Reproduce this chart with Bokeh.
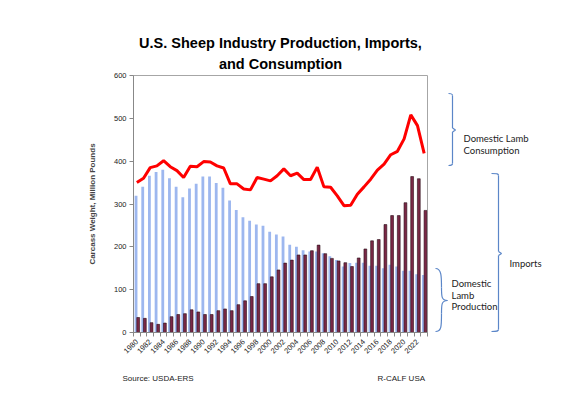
from bokeh.plotting import figure
from bokeh.layouts import row, column
from bokeh.models import Range1d, FixedTicker, Label, ColumnDataSource, Title
from bokeh.embed import file_html
from bokeh.resources import INLINE

years = list(range(1980, 2024))
production = [319, 340, 366, 375, 380, 360, 340, 316, 336, 347, 364, 364, 349, 338, 308, 286,
              269, 261, 252, 249, 235, 229, 224, 205, 200, 192, 189, 189, 185, 178, 169, 154,
              162, 163, 163, 156, 156, 150, 158, 154, 144, 144, 136, 134]
imports = [35, 33, 23, 19, 22, 37, 42, 44, 53, 48, 42, 42, 51, 55, 51, 65,
           74, 84, 114, 114, 130, 146, 162, 169, 181, 181, 191, 204, 184, 173, 167, 163,
           154, 174, 195, 214, 217, 252, 273, 273, 303, 364, 359, 285]
consumption = [350, 360, 385, 389, 401, 387, 378, 362, 388, 387, 399, 398, 389, 384, 347, 347,
               335, 333, 362, 358, 354, 366, 382, 366, 372, 357, 357, 386, 340, 339, 319, 296,
               297, 323, 340, 358, 379, 393, 415, 423, 452, 508, 483, 418]
y_ticks = [0, 100, 200, 300, 400, 500, 600]
x_tick_years = list(range(1980, 2023, 2))

title_lines = ["U.S. Sheep Industry Production, Imports,", "and Consumption"]
y_label = "Carcass Weight, Million Pounds"
source_text = "Source:  USDA-ERS"
credit_text = "R-CALF USA"

src = ColumnDataSource(dict(
    year=years, production=production, imports=imports, consumption=consumption,
    xb=[y - 0.12 for y in years], xd=[y + 0.2 for y in years]))

H = 362
p = figure(width=430, height=H, output_backend="svg", toolbar_location=None,
           x_range=Range1d(1979.5, 2023.5), y_range=Range1d(0, 600),
           min_border_left=133, min_border_right=3, min_border_top=75, min_border_bottom=30)
p.title = None
p.background_fill_color = "white"
p.border_fill_color = "white"
p.outline_line_color = "#a6a6a6"
p.outline_line_width = 1
p.grid.visible = False

title_kw = dict(align="center", text_font="Liberation Sans", text_font_style="bold",
                text_font_size="14.5px", text_color="black", text_line_height=0.9)
p.add_layout(Title(text=title_lines[1], standoff=7, **title_kw), "above")
p.add_layout(Title(text=title_lines[0], standoff=0, **title_kw), "above")

p.vbar(x="xb", top="production", width=0.42, bottom=0, source=src,
       fill_color="#9db7ef", line_color=None)
p.vbar(x="xd", top="imports", width=0.42, bottom=0, source=src,
       fill_color="#7a2846", line_color="#2a0d18", line_width=0.6)
p.line(x="year", y="consumption", source=src, line_color="#ff0000", line_width=3)

p.yaxis.ticker = FixedTicker(ticks=y_ticks)
p.yaxis.axis_label = y_label
p.yaxis.axis_label_text_font = "Liberation Sans"
p.yaxis.axis_label_text_font_style = "bold"
p.yaxis.axis_label_text_font_size = "8px"
p.yaxis.axis_label_standoff = 14
p.yaxis.major_label_text_font = "Liberation Sans"
p.yaxis.major_label_text_font_size = "7.5px"
p.yaxis.major_label_text_color = "#222222"
p.yaxis.major_tick_in = 0
p.yaxis.major_tick_out = 4
p.yaxis.minor_tick_out = 0
p.yaxis.minor_tick_in = 0
p.yaxis.major_label_standoff = 3
p.yaxis.axis_line_color = "#888888"
p.yaxis.major_tick_line_color = "#888888"

p.xaxis.ticker = FixedTicker(ticks=x_tick_years, minor_ticks=[y - 0.5 for y in years] + [2023.5])
p.xaxis.major_label_orientation = 0.785
p.xaxis.major_label_text_font = "Liberation Sans"
p.xaxis.major_label_text_font_size = "7.5px"
p.xaxis.major_label_text_color = "#222222"
p.xaxis.major_tick_in = 0
p.xaxis.major_tick_out = 0
p.xaxis.minor_tick_in = 0
p.xaxis.minor_tick_out = 4
p.xaxis.major_label_standoff = 4
p.xaxis.axis_line_color = "#888888"
p.xaxis.minor_tick_line_color = "#888888"

# right panel with braces and annotation texts (page coordinates; frame aligned with p)
q = figure(width=140, height=H, output_backend="svg", toolbar_location=None,
           x_range=Range1d(430, 570), y_range=Range1d(332, 75),
           min_border_left=0, min_border_right=0, min_border_top=75, min_border_bottom=30)
q.axis.visible = False
q.grid.visible = False
q.outline_line_color = None
q.background_fill_color = "white"
q.border_fill_color = "white"

brace_color = "#5b86c8"

def bracket(fig, x, top, bottom, tip, hook, tipw):
    fig.bezier(x0=[x - hook, x], y0=[top, bottom - 2], x1=[x, x - hook], y1=[top + 2, bottom],
               cx0=[x - 1, x], cy0=[top, bottom - 0.5], cx1=[x, x - 1], cy1=[top + 0.5, bottom],
               line_color=brace_color, line_width=1.2)
    fig.line([x, x], [top + 2, tip - 2], line_color=brace_color, line_width=1.2)
    fig.line([x, x], [tip + 2, bottom - 2], line_color=brace_color, line_width=1.2)
    fig.line([x, x + tipw, x], [tip - 2, tip, tip + 2], line_color=brace_color, line_width=1.2)

bracket(q, 452, 93, 165, 129.5, 4, 3)
bracket(q, 498, 173, 331, 253, 7, 3)

q.bezier(x0=[435, 441, 447, 441], y0=[268, 287, 300, 313],
         x1=[441, 447, 441, 435], y1=[287, 300, 313, 331],
         cx0=[441, 441, 441, 441], cy0=[268, 296, 300, 326],
         cx1=[441, 441, 441, 441], cy1=[276, 300, 304, 331],
         line_color=brace_color, line_width=1.2)

txt_kw = dict(text_font="Lato", text_font_size="9.5px", text_color="#222222",
              text_baseline="middle", text_align="left")
ann = [("Domestic Lamb", 463, 138), ("Consumption", 463, 150), ("Imports", 509, 263),
       ("Domestic", 451, 283), ("Lamb", 451, 294.5), ("Production", 451, 306)]
for t, xx, yy in ann:
    q.add_layout(Label(x=xx, y=yy, text=t, **txt_kw))

# footer strip (page coordinates)
f = figure(width=570, height=24, output_backend="svg", toolbar_location=None,
           x_range=Range1d(0, 570), y_range=Range1d(386, 362),
           min_border_left=0, min_border_right=0, min_border_top=0, min_border_bottom=0)
f.axis.visible = False
f.grid.visible = False
f.outline_line_color = None
f.background_fill_color = "white"
f.border_fill_color = "white"
foot_kw = dict(text_align="left", text_baseline="middle", text_font="Liberation Sans",
               text_font_size="8px", text_color="#222222")
f.add_layout(Label(x=122, y=378, text=source_text, **foot_kw))
f.add_layout(Label(x=377, y=378, text=credit_text, **foot_kw))

layout = column(row(p, q), f)
open("out.html", "w").write(file_html(layout, INLINE))
